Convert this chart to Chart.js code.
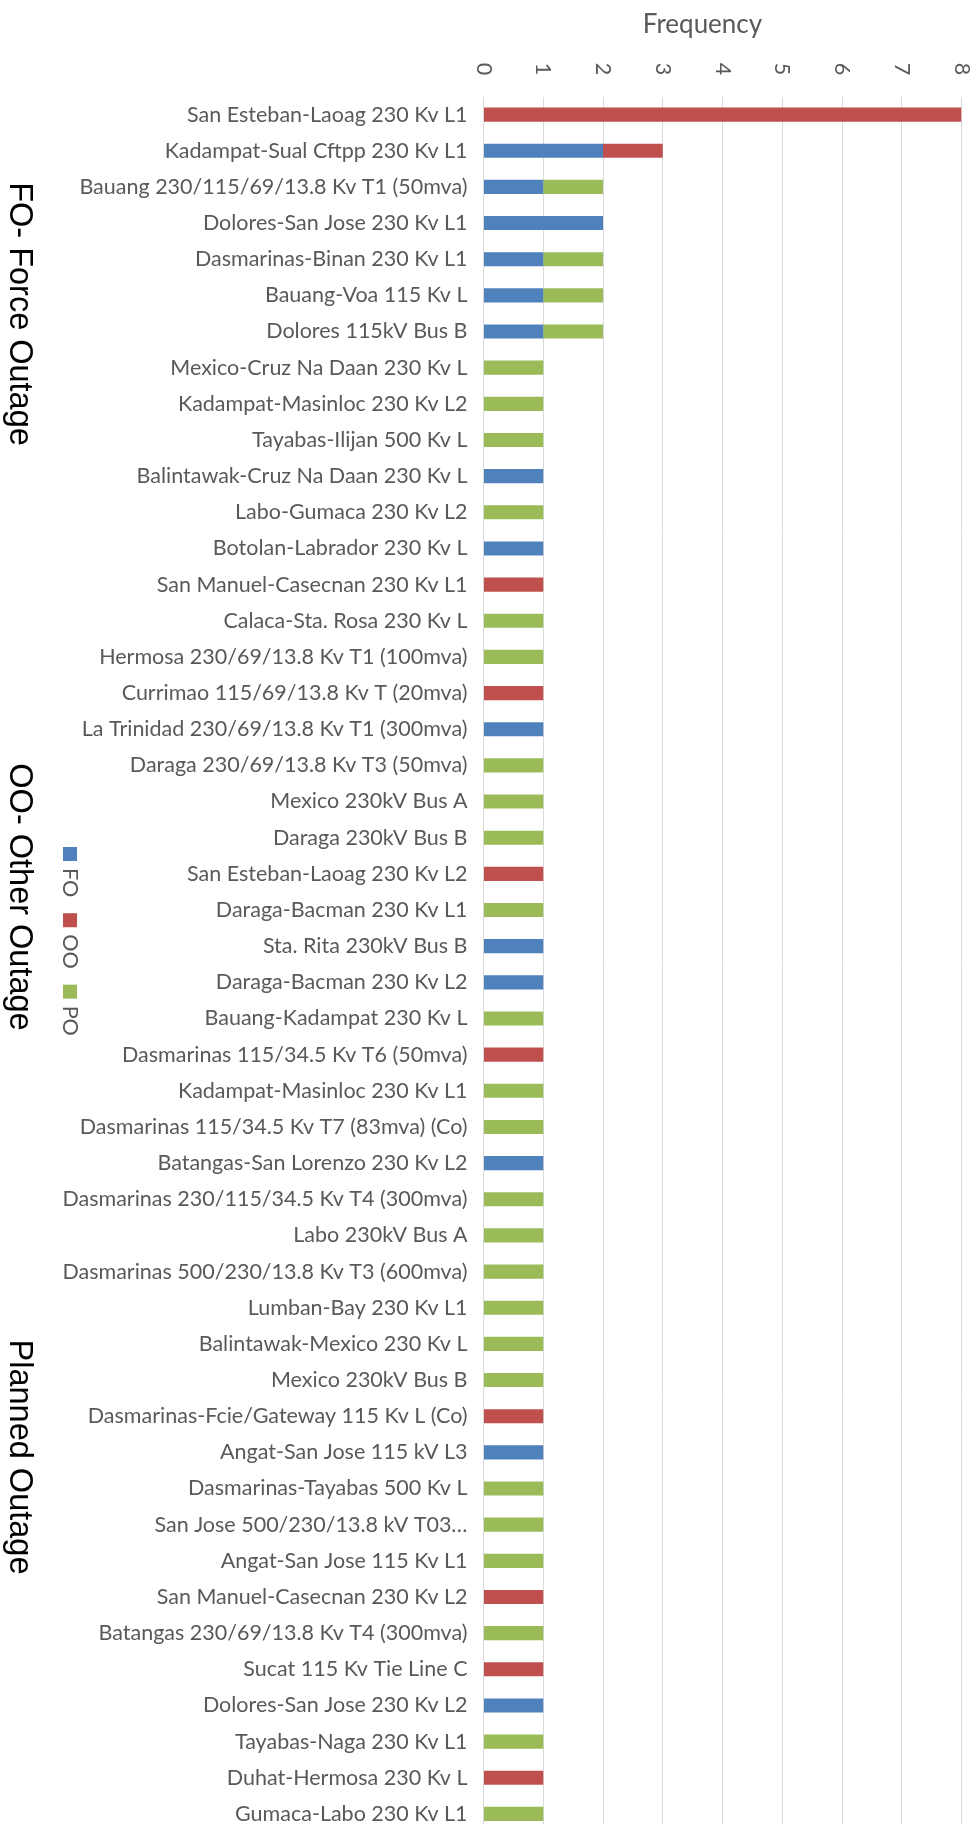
<!DOCTYPE html>
<html>
<head>
<meta charset="utf-8">
<script src="https://cdn.jsdelivr.net/npm/chart.js@4.4.1/dist/chart.umd.min.js"></script>
<style>
  html, body { margin: 0; padding: 0; background: #ffffff; overflow: hidden; }
  #wrap { width: 977px; height: 1832px; position: relative; }
</style>
</head>
<body>
<div id="wrap"><canvas id="chart" width="977" height="1832"></canvas></div>
<script>
// ---------- data ----------
const categories = [
  "San Esteban-Laoag 230 Kv L1",
  "Kadampat-Sual Cftpp 230 Kv L1",
  "Bauang 230/115/69/13.8 Kv T1 (50mva)",
  "Dolores-San Jose 230 Kv L1",
  "Dasmarinas-Binan 230 Kv L1",
  "Bauang-Voa 115 Kv L",
  "Dolores 115kV Bus B",
  "Mexico-Cruz Na Daan 230 Kv L",
  "Kadampat-Masinloc 230 Kv L2",
  "Tayabas-Ilijan 500 Kv L",
  "Balintawak-Cruz Na Daan 230 Kv L",
  "Labo-Gumaca 230 Kv L2",
  "Botolan-Labrador 230 Kv L",
  "San Manuel-Casecnan 230 Kv L1",
  "Calaca-Sta. Rosa 230 Kv L",
  "Hermosa 230/69/13.8 Kv T1 (100mva)",
  "Currimao 115/69/13.8 Kv T (20mva)",
  "La Trinidad 230/69/13.8 Kv T1 (300mva)",
  "Daraga 230/69/13.8 Kv T3 (50mva)",
  "Mexico 230kV Bus A",
  "Daraga 230kV Bus B",
  "San Esteban-Laoag 230 Kv L2",
  "Daraga-Bacman 230 Kv L1",
  "Sta. Rita 230kV Bus B",
  "Daraga-Bacman 230 Kv L2",
  "Bauang-Kadampat 230 Kv L",
  "Dasmarinas 115/34.5 Kv T6 (50mva)",
  "Kadampat-Masinloc 230 Kv L1",
  "Dasmarinas 115/34.5 Kv T7 (83mva) (Co)",
  "Batangas-San Lorenzo 230 Kv L2",
  "Dasmarinas 230/115/34.5 Kv T4 (300mva)",
  "Labo 230kV Bus A",
  "Dasmarinas 500/230/13.8 Kv T3 (600mva)",
  "Lumban-Bay 230 Kv L1",
  "Balintawak-Mexico 230 Kv L",
  "Mexico 230kV Bus B",
  "Dasmarinas-Fcie/Gateway 115 Kv L (Co)",
  "Angat-San Jose 115 kV L3",
  "Dasmarinas-Tayabas 500 Kv L",
  "San Jose 500/230/13.8 kV T03…",
  "Angat-San Jose 115 Kv L1",
  "San Manuel-Casecnan 230 Kv L2",
  "Batangas 230/69/13.8 Kv T4 (300mva)",
  "Sucat 115 Kv Tie Line C",
  "Dolores-San Jose 230 Kv L2",
  "Tayabas-Naga 230 Kv L1",
  "Duhat-Hermosa 230 Kv L",
  "Gumaca-Labo 230 Kv L1"
];

const foValues = [
  null, 2, 1, 2, 1, 1, 1, null, null, null,
  1, null, 1, null, null, null, null, 1, null, null,
  null, null, null, 1, 1, null, null, null, null, 1,
  null, null, null, null, null, null, null, 1, null, null,
  null, null, null, null, 1, null, null, null
];
const ooValues = [
  8, 1, null, null, null, null, null, null, null, null,
  null, null, null, 1, null, null, 1, null, null, null,
  null, 1, null, null, null, null, 1, null, null, null,
  null, null, null, null, null, null, 1, null, null, null,
  null, 1, null, 1, null, null, 1, null
];
const poValues = [
  null, null, 1, null, 1, 1, 1, 1, 1, 1,
  null, 1, null, null, 1, 1, null, null, 1, 1,
  1, null, 1, null, null, 1, null, 1, 1, null,
  1, 1, 1, 1, 1, 1, null, null, 1, 1,
  1, null, 1, null, null, 1, null, 1
];

const seriesNames = ["FO", "OO", "PO"];
const seriesColors = ["#4F81BD", "#C0504D", "#9BBB59"];
const xTickValues = [0, 1, 2, 3, 4, 5, 6, 7, 8];
const axisTitle = "Frequency";
const sideNotes = ["FO- Force Outage", "OO- Other Outage", "Planned Outage"];
const sideNoteCenters = [314, 897, 1457];

// ---------- styling ----------
const LABEL_FONT = '"Lato", "Open Sans", sans-serif';
const TEXT_GREY = "#595959";
const GRID_GREY = "#D9D9D9";

// custom drawing: rotated tick labels, axis title, legend, side notes
const extrasPlugin = {
  id: "extras",
  afterDraw(chart) {
    const ctx = chart.ctx;
    const xs = chart.scales.x;
    const area = chart.chartArea;

    // axis title
    ctx.save();
    ctx.fillStyle = TEXT_GREY;
    ctx.font = "26px " + LABEL_FONT;
    ctx.textAlign = "center";
    ctx.textBaseline = "alphabetic";
    ctx.fillText(axisTitle, (area.left + area.right) / 2 - 20, 33);
    ctx.restore();

    // tick labels rotated 90° clockwise
    ctx.save();
    ctx.fillStyle = TEXT_GREY;
    ctx.font = "21.5px " + LABEL_FONT;
    ctx.textAlign = "center";
    ctx.textBaseline = "middle";
    xTickValues.forEach(v => {
      const px = xs.getPixelForValue(v);
      ctx.save();
      ctx.translate(px, 69);
      ctx.rotate(Math.PI / 2);
      ctx.fillText(String(v), 0, 0);
      ctx.restore();
    });
    ctx.restore();

    // legend (vertical, text rotated clockwise)
    ctx.save();
    ctx.font = "21.5px " + LABEL_FONT;
    let y = 847;
    chart.data.datasets.forEach(ds => {
      ctx.fillStyle = ds.backgroundColor;
      ctx.fillRect(63, y, 14, 14);
      const ty = y + 21;
      ctx.save();
      ctx.fillStyle = TEXT_GREY;
      ctx.translate(70, ty);
      ctx.rotate(Math.PI / 2);
      ctx.textAlign = "left";
      ctx.textBaseline = "middle";
      ctx.fillText(ds.label, 0, 0);
      const w = ctx.measureText(ds.label).width;
      ctx.restore();
      y = ty + w + 16;
    });
    ctx.restore();

    // side notes
    ctx.save();
    ctx.fillStyle = "#000000";
    ctx.font = '32.5px "Liberation Sans", Arial, sans-serif';
    ctx.textAlign = "center";
    ctx.textBaseline = "alphabetic";
    sideNotes.forEach((t, i) => {
      ctx.save();
      ctx.translate(10, sideNoteCenters[i]);
      ctx.rotate(Math.PI / 2);
      ctx.fillText(t, 0, 0);
      ctx.restore();
    });
    ctx.restore();
  }
};

const datasets = seriesNames.map((name, i) => ({
  label: name,
  data: [foValues, ooValues, poValues][i],
  backgroundColor: seriesColors[i],
  borderWidth: 0,
  categoryPercentage: 1.0,
  barPercentage: 0.39
}));

new Chart(document.getElementById("chart"), {
  type: "bar",
  data: { labels: categories, datasets },
  options: {
    indexAxis: "y",
    responsive: false,
    animation: false,
    layout: { padding: { left: 0, right: 15.5, top: 0, bottom: 0 } },
    plugins: {
      legend: { display: false },
      tooltip: { enabled: false }
    },
    scales: {
      x: {
        position: "top",
        stacked: true,
        min: 0,
        max: 8,
        ticks: { display: false, stepSize: 1 },
        grid: { color: GRID_GREY, lineWidth: 1, drawTicks: false },
        border: { display: false },
        afterFit(scale) {
          scale.height = 96.5;
          scale.paddingLeft = 0; scale.paddingRight = 0;
          scale.paddingTop = 0; scale.paddingBottom = 0;
        }
      },
      y: {
        stacked: true,
        ticks: {
          autoSkip: false,
          padding: 16,
          color: TEXT_GREY,
          font: { family: LABEL_FONT, size: 21.5 }
        },
        grid: { display: false, drawTicks: false },
        border: { display: false },
        afterFit(scale) {
          scale.width = 483.5;
          scale.paddingTop = 0; scale.paddingBottom = 0;
          scale.paddingLeft = 0; scale.paddingRight = 0;
        }
      }
    }
  },
  plugins: [extrasPlugin]
});
</script>
</body>
</html>
